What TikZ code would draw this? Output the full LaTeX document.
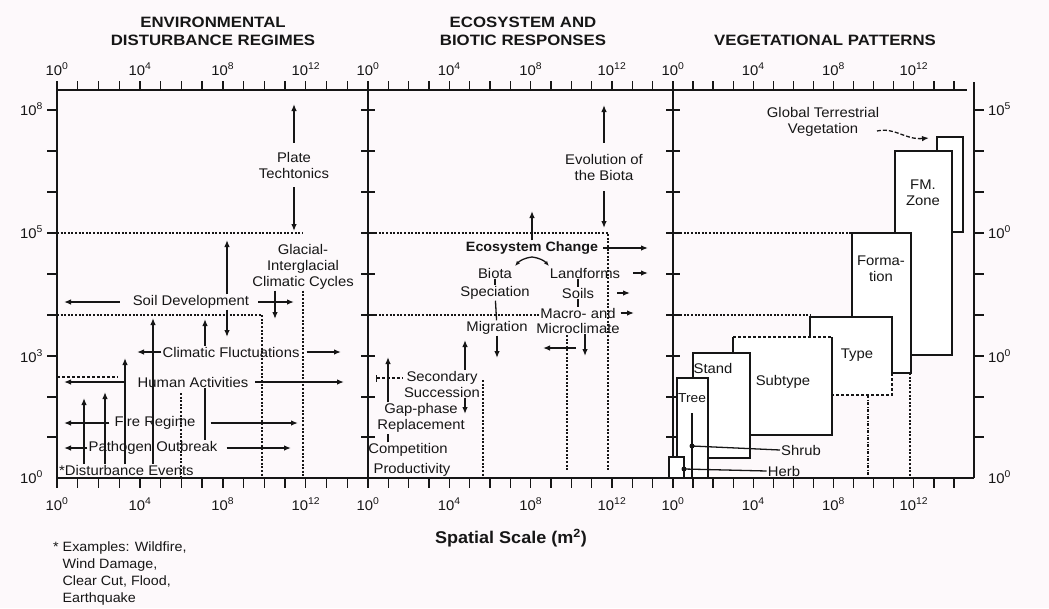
\documentclass[tikz,border=0pt]{standalone}
\usepackage{fontspec}
\setmainfont{Liberation Sans}[FakeStretch=1.06]
\newfontfamily\ttlfont{Liberation Sans}[FakeStretch=1.12]
\usetikzlibrary{arrows.meta}
\definecolor{bg}{RGB}{253,249,251}
\definecolor{ink}{RGB}{22,22,22}
\newcommand\tpow[1]{10\textsuperscript{#1}}
\begin{document}
\begin{tikzpicture}[x=1pt,y=-1pt,
  lbl/.style={font=\fontsize{14}{16}\selectfont, inner sep=1pt, align=center, text=ink},
  ttl/.style={font=\ttlfont\bfseries\fontsize{15}{18}\selectfont, align=center, text=ink},
  numl/.style={font=\fontsize{14}{16}\selectfont, inner sep=0pt, text=ink},
  axisline/.style={line width=1.6pt, draw=ink},
  tickline/.style={line width=1.3pt, draw=ink},
  arr/.style={line width=1.3pt, draw=ink, -{Latex[length=7pt,width=5.5pt]}},
  smallarr/.style={line width=1.3pt, draw=ink, -{Latex[length=5pt,width=4pt]}},
  plain/.style={line width=1.3pt, draw=ink},
  dotl/.style={line width=1.2pt, draw=ink, dash pattern=on 2pt off 1.6pt},
  dashdot/.style={line width=1.2pt, draw=ink, dash pattern=on 3pt off 1.5pt on 1pt off 1.5pt},
  bx/.style={line width=1.5pt, draw=ink},
  bxd/.style={line width=1.2pt, draw=ink, dash pattern=on 3pt off 2pt},
  vbox/.style={line width=1.5pt, draw=ink, fill=white},
]
\fill[bg] (0,0) rectangle (1049,608);
\useasboundingbox (0,0) rectangle (1049,608);

% ---------- titles ----------
\node[ttl] (t1) at (213,31) {ENVIRONMENTAL\\DISTURBANCE REGIMES};
\node[ttl] (t2) at (523,31) {ECOSYSTEM AND\\BIOTIC RESPONSES};
\node[ttl] (t3) at (825,40) {VEGETATIONAL PATTERNS};

% ---------- axes ----------
\draw[axisline] (57,90) -- (967,90);
\draw[axisline] (57,478) -- (974,478);
\draw[axisline] (57,90) -- (57,478);
\draw[axisline] (974,82) -- (974,478);
\draw[axisline] (368,90) -- (368,478);
\draw[axisline] (673,90) -- (673,478);
\foreach \L/\R in {57/368,368/673,673/974}{
  \foreach \i in {0,...,14}{
    \pgfmathsetmacro\xx{\L+\i*(\R-\L)/15}
    \draw[tickline] (\xx,478) -- (\xx,488);
    \draw[tickline] (\xx,90) -- (\xx,81);
  }
  \foreach \e in {0,4,8,12}{
    \pgfmathsetmacro\xx{\L+\e*(\R-\L)/15}
    \node[numl, anchor=base] at (\xx,75) {\tpow{\e}};
    \node[numl, anchor=base] at (\xx,510) {\tpow{\e}};
  }
}
\foreach \yy in {110,151,192,233,274,315,356,397,437}{
  \draw[tickline] (47,\yy) -- (57,\yy);
  \draw[tickline] (974,\yy) -- (984,\yy);
  \draw[tickline] (361,\yy) -- (375,\yy);
  \draw[tickline] (666,\yy) -- (680,\yy);
}
\node[numl, anchor=base east] at (43,115) {\tpow{8}};
\node[numl, anchor=base east] at (43,238) {\tpow{5}};
\node[numl, anchor=base east] at (43,362) {\tpow{3}};
\node[numl, anchor=base east] at (43,483) {\tpow{0}};
\node[numl, anchor=base west] at (988,115) {\tpow{5}};
\node[numl, anchor=base west] at (988,238) {\tpow{0}};
\node[numl, anchor=base west] at (988,362) {\tpow{0}};
\node[numl, anchor=base west] at (988,483) {\tpow{0}};

% ---------- panel 1 ----------
\draw[dotl] (57,233) -- (302,233);
\draw[dotl] (57,315) -- (262,315) -- (262,478);
\draw[dotl] (181,393) -- (181,478);
\draw[bxd] (57,377) -- (118,377);

\node[lbl] (plate) at (294,165) {Plate\\Techtonics};
\coordinate (p8) at (294,104);
\coordinate (p5) at (294,231);
\draw[arr, shorten <=8pt] (plate.north) -- (p8);
\draw[arr, shorten <=8pt] (plate.south) -- (p5);

\node[lbl] (glac) at (303,267) {Glacial-\\Interglacial\\Climatic Cycles};
\coordinate (gbot) at (303,478);
\draw[dotl] (glac.south) -- (gbot);
\coordinate (gdn) at (275,319);
\draw[arr] (glac.south -| gdn) -- (gdn);

\node[lbl] (soil) at (191,302) {Soil Development};
\coordinate (soilL) at (64,302);
\coordinate (soilR) at (294,302);
\coordinate (soilU) at (227,240);
\coordinate (soilD) at (227,337);
\draw[arr, shorten <=12pt] (soil.west) -- (soilL);
\draw[arr, shorten <=8pt] (soil.east) -- (soilR);
\draw[arr] (soil.north -| soilU) -- (soilU);
\draw[arr] (soil.south -| soilD) -- (soilD);

\node[lbl] (clim) at (231,352) {Climatic Fluctuations};
\coordinate (climL) at (137,352);
\coordinate (climR) at (341,352);
\coordinate (climU) at (205,319);
\draw[arr] (clim.west) -- (climL);
\draw[arr, shorten <=6pt] (clim.east) -- (climR);
\draw[arr] (clim.north -| climU) -- (climU);

\node[lbl] (human) at (193,382) {Human Activities};
\coordinate (humL) at (64,382);
\coordinate (humR) at (344,382);
\coordinate (humD) at (205,440);
\draw[arr, shorten <=12pt] (human.west) -- (humL);
\draw[arr, shorten <=6pt] (human.east) -- (humR);
\draw[plain] (human.south -| humD) -- (humD);

\node[lbl] (fire) at (155,423) {Fire Regime};
\coordinate (fireL) at (64,423);
\coordinate (fireR) at (298,423);
\draw[arr, shorten <=4pt] (fire.west) -- (fireL);
\draw[arr, shorten <=14pt] (fire.east) -- (fireR);

\node[lbl] (path) at (153,448) {Pathogen Outbreak};
\coordinate (pathL) at (64,448);
\coordinate (pathR) at (291,448);
\draw[arr] (path.west) -- (pathL);
\draw[arr, shorten <=8pt] (path.east) -- (pathR);

\node[lbl, anchor=west] (dist) at (58,470) {*Disturbance Events};
\coordinate (v1) at (153,318);
\coordinate (v2) at (125,358);
\coordinate (v3) at (105,392);
\coordinate (v4) at (84,398);
\foreach \c in {v1,v2,v3,v4}{ \draw[arr] (dist.north -| \c) -- (\c); }

% ---------- panel 2 ----------
\draw[dotl] (368,233) -- (608,233) -- (608,470);
\draw[dotl] (368,315) -- (540,315);
\draw[dotl] (567,335) -- (567,470);
\draw[dotl] (483,380) -- (483,478);

\node[lbl] (evol) at (604,167) {Evolution of\\the Biota};
\coordinate (e8) at (604,105);
\coordinate (e5) at (604,228);
\draw[arr, shorten <=10pt] (evol.north) -- (e8);
\draw[arr, shorten <=10pt] (evol.south) -- (e5);

\node[lbl, font=\bfseries\fontsize{13.5}{16}\selectfont] (eco) at (532,248) {Ecosystem Change};
\coordinate (ecoU) at (532,211);
\coordinate (ecoR) at (648,248);
\draw[arr] (eco.north) -- (ecoU);
\draw[arr, shorten <=4pt] (eco.east) -- (ecoR);
\coordinate (car) at (532,257);
\coordinate (carL) at (515,266);
\coordinate (carR) at (549,266);
\draw[smallarr] (car) to[bend right=20] (carL);
\draw[smallarr] (car) to[bend left=20] (carR);

\node[lbl] (biota) at (495,273) {Biota};
\node[lbl] (spec) at (495,293) {Speciation};
\node[lbl] (migr) at (497,328) {Migration};
\draw[plain] (biota) -- (spec);
\draw[plain] (spec) -- (migr);
\coordinate (migD) at (497,358);
\draw[arr] (migr.south) -- (migD);

\node[lbl] (land) at (585,273) {Landforms};
\node[lbl] (soils) at (578,293) {Soils};
\node[lbl] (macro) at (578,313) {Macro- and};
\node[lbl] (micro) at (578,328) {Microclimate};
\draw[plain] (soils.north |- land.south) -- (soils.north);
\draw[plain] (soils) -- (macro);
\coordinate (landR) at (648,273);
\coordinate (soilsR) at (630,293);
\coordinate (macroR) at (634,313);
\draw[arr, shorten <=12pt] (land.east) -- (landR);
\draw[arr, shorten <=22pt] (soils.east) -- (soilsR);
\draw[arr, shorten <=4pt] (macro.east) -- (macroR);
\coordinate (micS) at (576,348);
\coordinate (micL) at (543,348);
\draw[arr] (micS) -- (micL);
\coordinate (micD) at (585,356);
\draw[arr] (micro.south -| micD) -- (micD);

\node[lbl] (sec) at (442,384) {Secondary\\Succession};
\coordinate (secU) at (465,340);
\coordinate (secD) at (465,414);
\coordinate (secL) at (376,378);
\draw[arr] (sec.north -| secU) -- (secU);
\draw[arr] (sec.south -| secU) -- (secD);
\draw[bxd, {Bar[width=7pt]}-] (secL) -- (sec.west |- secL);

\node[lbl] (gap) at (421,418) {Gap-phase\\Replacement};
\coordinate (gapU) at (388,357);
\draw[arr] (gap.north -| gapU) -- (gapU);
\node[lbl] (comp) at (408,450) {Competition};
\node[lbl] (prod) at (412,470) {Productivity};
\draw[plain] (comp.north -| gapU) -- (gap.south -| gapU);

% ---------- panel 3 ----------
\draw[dotl] (673,233) -- (852,233);
\draw[dotl] (673,315) -- (810,315);

\node[lbl] (glob) at (823,122) {Global Terrestrial\\Vegetation};
\coordinate (globS) at (877,131);
\coordinate (globA) at (929,138);
\draw[arr, dash pattern=on 4pt off 2pt] (globS) .. controls (895,127) and (905,140) .. (globA);

\draw[vbox] (937,137) rectangle (963,232);
\draw[vbox] (895,151) rectangle (952,355);
\node[lbl] (fm) at (923,193) {FM.\\Zone};
\draw[vbox] (852,233) rectangle (911,373);
\node[lbl] (form) at (881,269) {Forma-\\tion};

\fill[white] (810,317) rectangle (892,395);
\draw[bx] (810,337) -- (810,317) -- (892,317) -- (892,373);
\draw[bxd] (892,373) -- (892,395) -- (832,395);
\node[lbl] (type) at (857,355) {Type};
\draw[dashdot] (868,395) -- (868,478);
\draw[dotl] (910,373) -- (910,478);

\fill[white] (733,337) rectangle (832,435);
\draw[bx] (733,337) -- (733,435) -- (832,435) -- (832,337);
\draw[bxd] (733,337) -- (832,337);
\node[lbl] (subt) at (783,382) {Subtype};

\draw[vbox] (693,353) rectangle (750,458);
\node[lbl] (stand) at (713,368) {Stand};

\draw[vbox] (677,378) rectangle (708,478);
\node[lbl, font=\fontsize{13}{15}\selectfont] (tree) at (692,398) {Tree};

\draw[vbox] (669,457) rectangle (684,478);

\node[lbl] (shrub) at (801,450) {Shrub};
\coordinate (shD) at (692,446);
\coordinate (shT) at (692,413);
\draw[plain] (shT) -- (shT |- gbot);
\draw[plain] (shrub.west) -- (shD);
\fill[ink] (shD) circle (2.5);

\node[lbl] (herb) at (784,471) {Herb};
\coordinate (hbD) at (684,469);
\draw[plain] (herb.west) -- (hbD);
\fill[ink] (hbD) circle (2.5);

% ---------- axis title and footnote ----------
\node[font=\bfseries\fontsize{17}{20}\selectfont, text=ink] (xl) at (511,538) {Spatial Scale (m\textsuperscript{2})};
\node[lbl, anchor=north west, align=left, font=\fontsize{13.5}{16.7}\selectfont] (foot) at (52,541)
  {* Examples: Wildfire,\\\hspace*{0.7em}Wind Damage,\\\hspace*{0.7em}Clear Cut, Flood,\\\hspace*{0.7em}Earthquake};
\end{tikzpicture}
\end{document}
